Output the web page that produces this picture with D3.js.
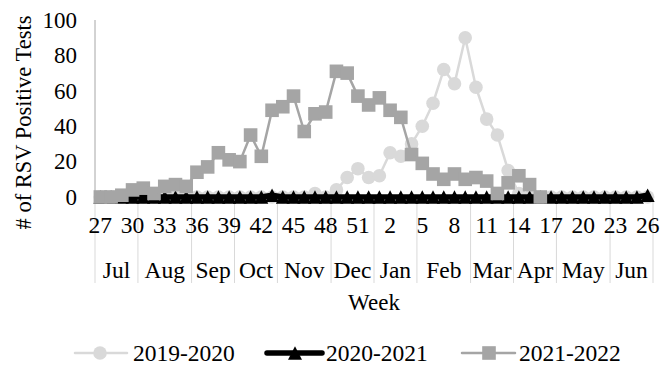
<!DOCTYPE html>
<html>
<head>
<meta charset="utf-8">
<script src="https://cdn.jsdelivr.net/npm/d3@7/dist/d3.min.js"></script>
<style>
  html, body { margin: 0; padding: 0; background: #fff; }
  svg { display: block; }
  text { font-family: "Liberation Serif", "Times New Roman", serif; fill: #000; }
</style>
</head>
<body>
<svg id="chart" width="665" height="366"></svg>
<script>
// Surveillance weeks, July through June
const weeks = [27, 28, 29, 30, 31, 32, 33, 34, 35, 36, 37, 38, 39, 40, 41, 42, 43, 44, 45, 46, 47, 48, 49, 50, 51, 52,
               1, 2, 3, 4, 5, 6, 7, 8, 9, 10, 11, 12, 13, 14, 15, 16, 17, 18, 19, 20, 21, 22, 23, 24, 25, 26];
const tickWeeks = [27, 30, 33, 36, 39, 42, 45, 48, 51, 2, 5, 8, 11, 14, 17, 20, 23, 26];
const months = ["Jul", "Aug", "Sep", "Oct", "Nov", "Dec", "Jan", "Feb", "Mar", "Apr", "May", "Jun"];
const monthWeekCounts = [4, 5, 4, 4, 5, 4, 4, 5, 4, 4, 5, 4];
const yTicks = [0, 20, 40, 60, 80, 100];

// Weekly counts of positive RSV tests
const season2019 = [0, 0, 0, 0, 0, 0, 0, 0, 0, 0, 0, 0, 0, 0, 0, 0, 0, 0, 0, 0, 2, 0, 4, 11, 16, 11,
                    12, 25, 23, 30, 40, 53, 72, 64, 90, 62, 44, 35, 15, 2, 0, 0, 0, 0, 0, 0, 0, 0, 0, 0, 0, 0];
const season2020 = [0, 0, 0, 0, 0, 0, 0, 0, 0, 0, 0, 0, 0, 0, 0, 0, 1, 0, 0, 0, 0, 0, 0, 0, 0, 0,
                    0, 0, 0, 0, 0, 0, 0, 0, 0, 0, 0, 0, 0, 0, 0, 0, 0, 0, 0, 0, 0, 0, 0, 0, 0, 1];
const season2021 = [0, 0, 1, 4, 5, 2, 6, 7, 6, 14, 17, 25, 21, 20, 35, 23, 49, 51, 57, 37, 47, 48, 71, 70, 57, 52,
                    56, 49, 45, 24, 19, 13, 10, 13, 10, 11, 9, 2, 8, 12, 7, 0];

const seriesNames = ["2019-2020", "2020-2021", "2021-2022"];

const svg = d3.select("#chart");
const plot = { left: 95, right: 653, top: 20, bottom: 197, catBottom: 283 };

const x = d3.scaleBand().domain(d3.range(weeks.length)).range([plot.left, plot.right]).padding(0);
const cx = i => x(i) + x.bandwidth() / 2;
const y = d3.scaleLinear().domain([0, 100]).range([plot.bottom, plot.top]);

// Value axis (labels only) and its line
const yAxis = d3.axisLeft(y).tickValues(yTicks).tickSize(0).tickPadding(18);
svg.append("g")
  .attr("transform", `translate(${plot.left},0)`)
  .call(yAxis)
  .call(g => g.select(".domain").remove())
  .selectAll("text")
  .style("font-size", "23px")
  .style("font-family", "Liberation Serif, serif")
  .attr("fill", "#000");

svg.append("line")
  .attr("x1", plot.left).attr("x2", plot.left)
  .attr("y1", plot.top).attr("y2", plot.bottom)
  .attr("stroke", "#a6a6a6").attr("stroke-width", 1);

// Category axis line
svg.append("line")
  .attr("x1", plot.left).attr("x2", plot.right)
  .attr("y1", plot.bottom).attr("y2", plot.bottom)
  .attr("stroke", "#d9d9d9").attr("stroke-width", 1);

// Month separators: boundaries between month groups
const boundaries = [0];
monthWeekCounts.forEach(n => boundaries.push(boundaries[boundaries.length - 1] + n));
svg.append("g").selectAll("line")
  .data(boundaries)
  .join("line")
  .attr("x1", b => b < weeks.length ? x(b) : plot.right)
  .attr("x2", b => b < weeks.length ? x(b) : plot.right)
  .attr("y1", plot.bottom).attr("y2", plot.catBottom)
  .attr("stroke", "#d9d9d9").attr("stroke-width", 1);

// Week numbers (every third week)
const tickIdx = tickWeeks.map((w, k) => weeks.indexOf(w, k === 0 ? 0 : weeks.indexOf(tickWeeks[k - 1]) + 1));
const xAxis = d3.axisBottom(x).tickValues(tickIdx).tickFormat(i => weeks[i]).tickSize(0).tickPadding(0);
svg.append("g")
  .attr("transform", `translate(0,${plot.bottom})`)
  .call(xAxis)
  .call(g => g.select(".domain").remove())
  .selectAll("text")
  .attr("dy", null)
  .attr("y", 36)
  .style("font-size", "23.5px")
  .style("font-family", "Liberation Serif, serif")
  .attr("fill", "#000");

// Month labels centred in their group
svg.append("g").selectAll("text")
  .data(months)
  .join("text")
  .attr("x", (m, k) => (x(boundaries[k]) + (boundaries[k + 1] < weeks.length ? x(boundaries[k + 1]) : plot.right)) / 2)
  .attr("y", 278)
  .attr("text-anchor", "middle")
  .style("font-size", "23.5px")
  .text(m => m);

// Axis titles
svg.append("text")
  .attr("transform", "translate(31,122.5) rotate(-90)")
  .attr("text-anchor", "middle")
  .style("font-size", "22.5px")
  .text("# of RSV Positive Tests");

svg.append("text")
  .attr("x", (plot.left + plot.right) / 2)
  .attr("y", 310)
  .attr("text-anchor", "middle")
  .style("font-size", "23px")
  .text("Week");

// Series styles
const styles = [
  { color: "#d9d9d9", width: 2.5, marker: "circle" },
  { color: "#000000", width: 5.5, marker: "triangle" },
  { color: "#a5a5a5", width: 2.5, marker: "square" }
];

function drawMarker(g, type, color) {
  if (type === "circle") {
    g.append("circle").attr("r", 6.8).attr("fill", color);
  } else if (type === "square") {
    g.append("rect").attr("x", -6.8).attr("y", -6.8).attr("width", 13.6).attr("height", 13.6).attr("fill", color);
  } else {
    g.append("path").attr("d", "M0,-6.7L7,6.7L-7,6.7Z").attr("fill", color);
  }
}

const allSeries = [season2019, season2020, season2021];
const line = d3.line().x((d, i) => cx(i)).y(d => y(d));

allSeries.forEach((values, s) => {
  const st = styles[s];
  const g = svg.append("g");
  g.append("path")
    .datum(values)
    .attr("d", line)
    .attr("fill", "none")
    .attr("stroke", st.color)
    .attr("stroke-width", st.width)
    .attr("stroke-linejoin", "round")
    .attr("stroke-linecap", "round");
  g.selectAll("g.m")
    .data(values)
    .join("g")
    .attr("class", "m")
    .attr("transform", (d, i) => `translate(${cx(i)},${y(d)})`)
    .each(function() { drawMarker(d3.select(this), st.marker, st.color); });
});

// Legend
const legendItems = [
  { x0: 75, x1: 127, xm: 100, tx: 133 },
  { x0: 267, x1: 322, xm: 295, tx: 326 },
  { x0: 462, x1: 515, xm: 489, tx: 519 }
];
const legendY = 353;
legendItems.forEach((it, s) => {
  const st = styles[s];
  const g = svg.append("g");
  g.append("line")
    .attr("x1", it.x0).attr("x2", it.x1)
    .attr("y1", legendY).attr("y2", legendY)
    .attr("stroke", st.color).attr("stroke-width", st.width)
    .attr("stroke-linecap", "round");
  drawMarker(g.append("g").attr("transform", `translate(${it.xm},${legendY})`), st.marker, st.color);
  g.append("text")
    .attr("x", it.tx).attr("y", 361)
    .style("font-size", "23.5px")
    .text(seriesNames[s]);
});
</script>
</body>
</html>
